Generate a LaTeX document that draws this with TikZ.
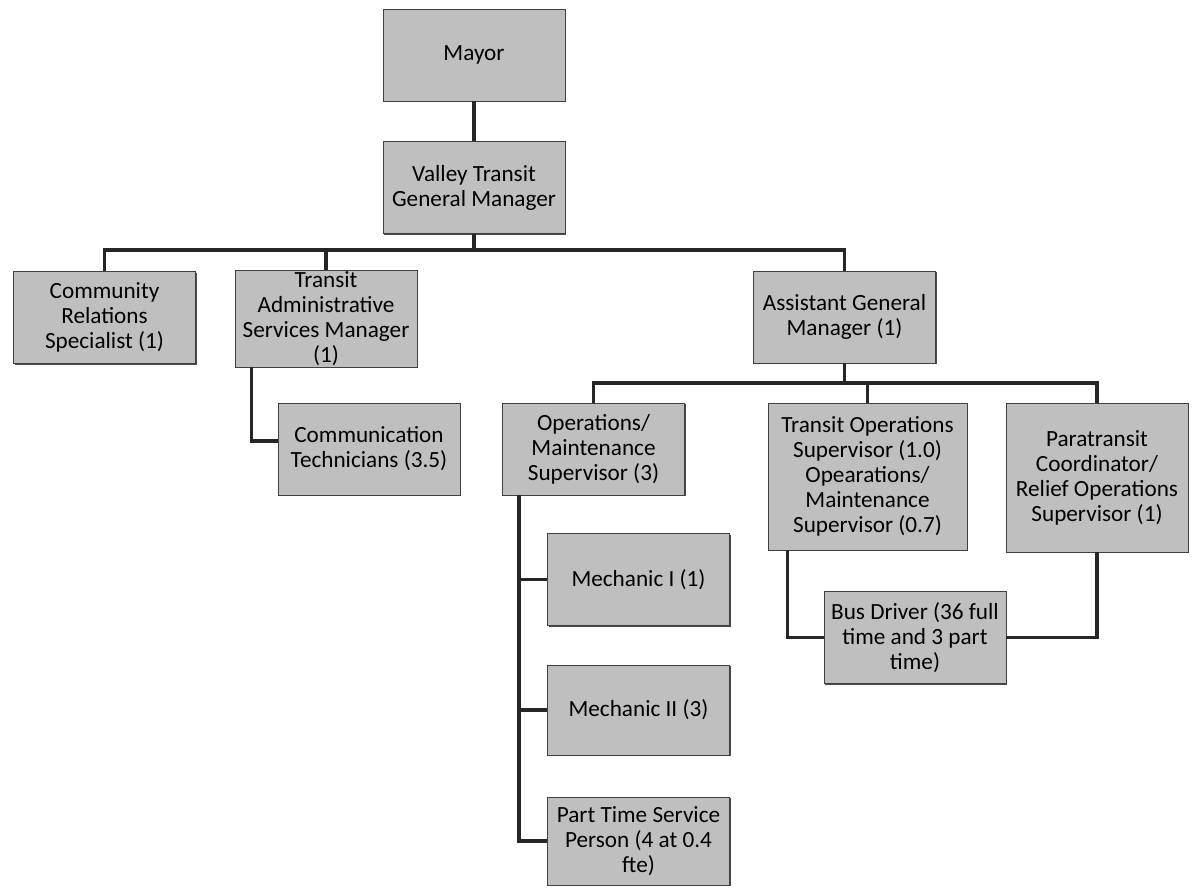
\documentclass[tikz,border=0pt]{standalone}
\usepackage{fontspec}
\setmainfont{Carlito}
\usetikzlibrary{positioning, calc, shadows}

\begin{document}
\begin{tikzpicture}[
    x=0.025cm, y=-0.025cm,
    box/.style={draw=black!75, line width=0.6pt, fill=black!25, minimum width=4.55cm, minimum height=2.3cm, align=center, inner sep=1pt, font=\fontsize{16.5}{17.8}\selectfont, drop shadow={shadow xshift=0.8pt, shadow yshift=-0.8pt, fill=black!70, opacity=1}},
    link/.style={line width=2.5pt, draw=black!85}
]
\useasboundingbox (0,0) rectangle (1193,888);

\node[box] (mayor) at (474,55) {Mayor};
\node[box] (vtgm) at (474,187.5) {Valley Transit\\General Manager};
\node[box] (crs) at (104.5,317.5) {Community\\Relations\\Specialist (1)};
\node[box] (tasm) at (326,318.5) {Transit\\Administrative\\Services Manager\\(1)};
\node[box] (agm) at (844.5,317) {Assistant General\\Manager (1)};
\node[box] (ct) at (369,449) {Communication\\Technicians (3.5)};
\node[box] (oms) at (593.5,449) {Operations/\\Maintenance\\Supervisor (3)};
\node[box, minimum width=4.975cm, minimum height=3.675cm] (tos) at (867.5,476.5) {Transit Operations\\Supervisor (1.0)\\Opearations/\\Maintenance\\Supervisor (0.7)};
\node[box, minimum height=3.725cm] (prc) at (1097,477.5) {Paratransit\\Coordinator/\\Relief Operations\\Supervisor (1)};
\node[box] (mech1) at (638.5,579.5) {Mechanic I (1)};
\node[box, minimum height=2.25cm] (mech2) at (638.5,710) {Mechanic II (3)};
\node[box, minimum height=2.2cm] (pts) at (638.5,841) {Part Time Service\\Person (4 at 0.4\\fte)};
\node[box] (bus) at (915,637.5) {Bus Driver (36 full\\time and 3 part\\time)};

% top levels
\coordinate (bar1) at (474,250);
\coordinate (bar2) at (844.5,383);
\draw[link] (mayor) -- (vtgm);
\draw[link] (vtgm.south) -- (bar1);
\draw[link] (crs.north) |- (bar1) -| (agm.north);
\draw[link] (tasm.north) -- (tasm.north |- bar1);
\draw[link] (agm.south) -- (bar2);
\draw[link] (oms.north) |- (bar2) -| (prc.north);
\draw[link] (tos.north) -- (tos.north |- bar2);

% side legs
\coordinate (tasmleg) at ([xshift=0.425cm]tasm.south west);
\coordinate (omsleg) at ([xshift=0.425cm]oms.south west);
\coordinate (tosleg) at ([xshift=0.5cm]tos.south west);
\draw[link] (tasmleg) |- ([yshift=0.2cm]ct.west);
\draw[link] (omsleg) |- (pts.west);
\draw[link] (mech1.west) -- (mech1.west -| omsleg);
\draw[link] (mech2.west) -- (mech2.west -| omsleg);
\draw[link] (tosleg) |- (bus.west);
\draw[link] (prc.south) |- (bus.east);
\end{tikzpicture}
\end{document}
